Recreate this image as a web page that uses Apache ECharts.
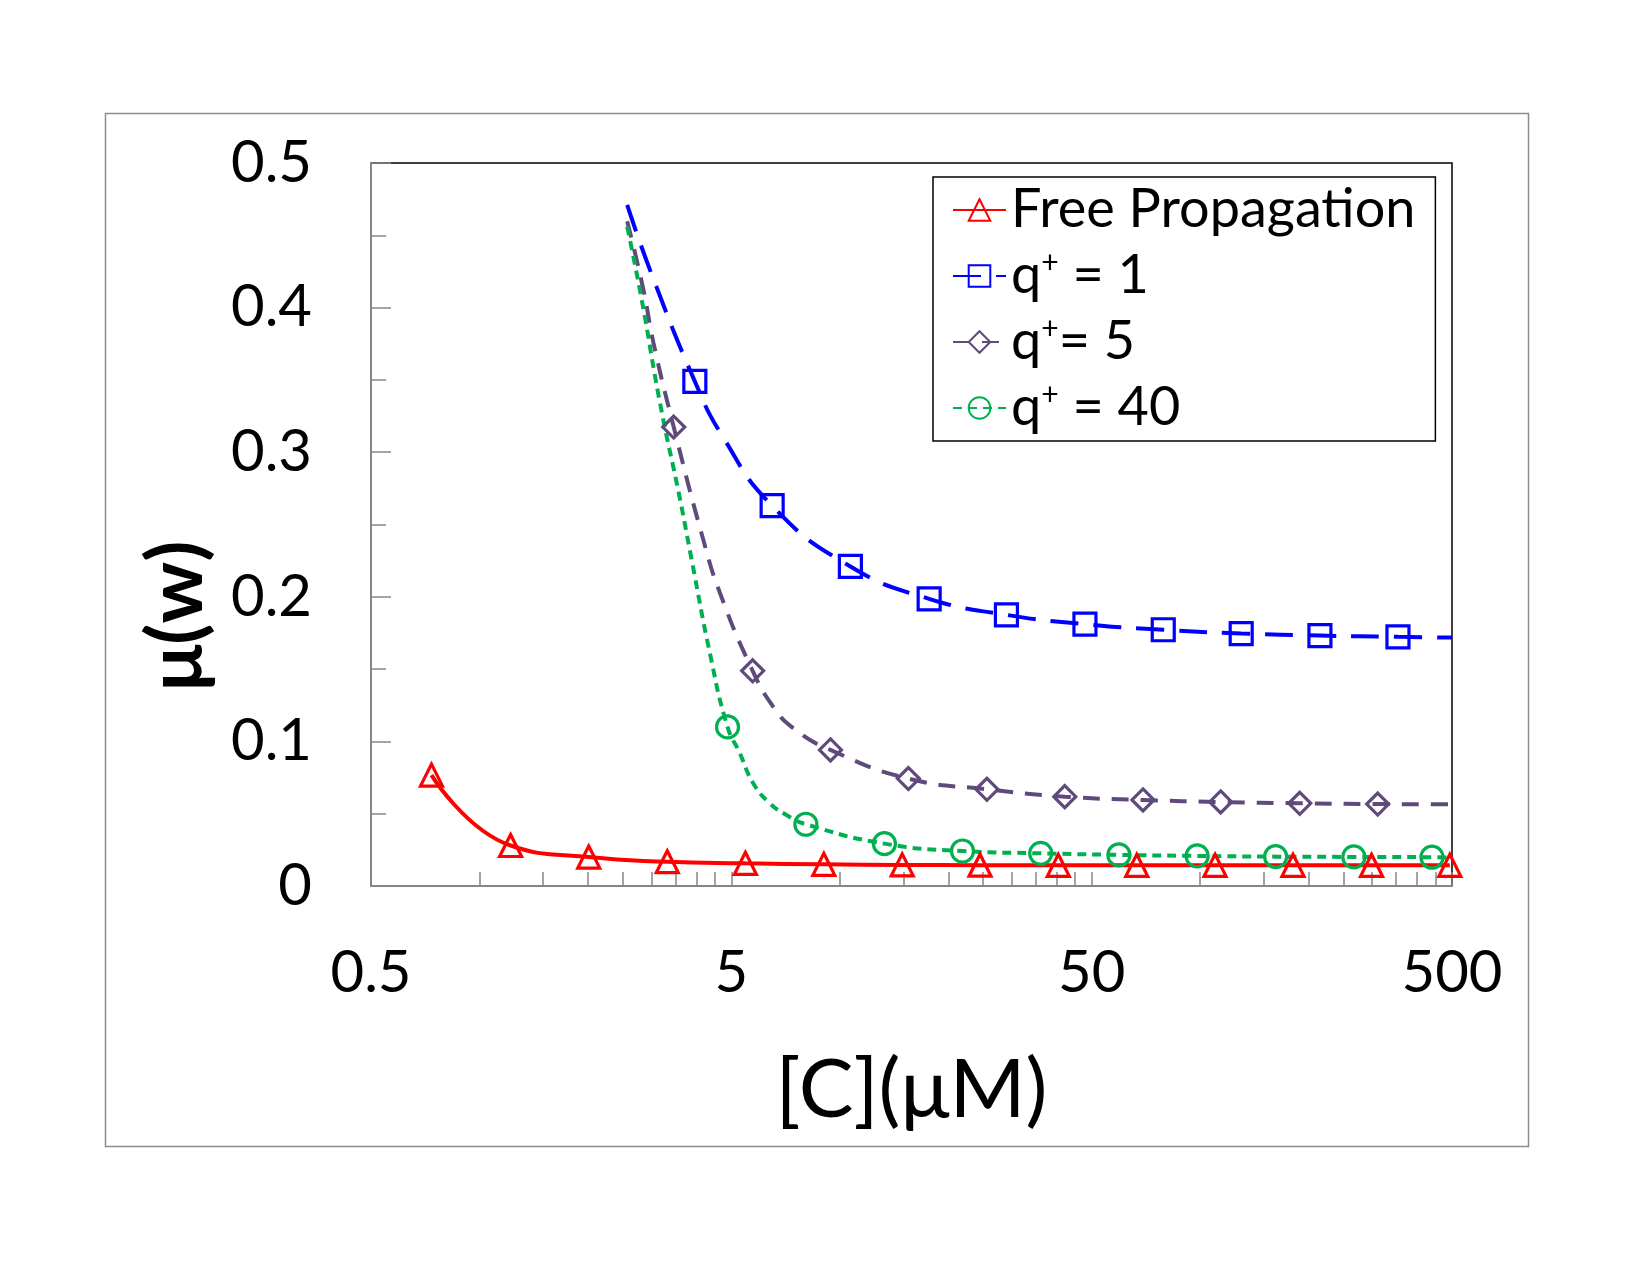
<!DOCTYPE html>
<html>
<head>
<meta charset="utf-8">
<title>mu(w) vs [C]</title>
<script src="https://cdn.jsdelivr.net/npm/echarts@6/dist/echarts.min.js"></script>
<style>
  html, body { margin: 0; background: #fff; }
  #chart { width: 1650px; height: 1275px; }
</style>
</head>
<body>
<div id="chart"></div>
<script>
// values: [C] in uM, mu(w); mark = 1 where a marker is drawn
var freeX  = [0.736, 1.22, 2.01, 3.32, 5.47, 9.03, 14.9, 24.5, 40.4, 66.7, 110, 181, 299, 493];
var freeY  = [0.0767, 0.0280, 0.0200, 0.0168, 0.0157, 0.0150, 0.0146, 0.0144, 0.0143, 0.0143, 0.0143, 0.0143, 0.0143, 0.0143];
var freeM  = [1, 1, 1, 1, 1, 1, 1, 1, 1, 1, 1, 1, 1, 1];

var q1X = [2.57, 3.0, 3.96, 4.70, 6.49, 10.7, 17.7, 29.0, 47.9, 79.0, 130, 215, 354, 500];
var q1Y = [0.471, 0.4235, 0.349, 0.312, 0.263, 0.221, 0.1986, 0.1875, 0.1811, 0.1772, 0.1746, 0.1732, 0.1723, 0.1718];
var q1M = [0, 0, 1, 0, 1, 1, 1, 1, 1, 1, 1, 1, 1, 0];

var q5X = [2.57, 2.85, 3.04, 3.46, 4.18, 4.65, 5.73, 6.53, 7.42, 9.42, 15.5, 25.6, 42.1, 69.4, 114, 189, 311, 500];
var q5Y = [0.4597, 0.4125, 0.3756, 0.3174, 0.2394, 0.2026, 0.1488, 0.1241, 0.1092, 0.0941, 0.0743, 0.0669, 0.0618, 0.0595, 0.0581, 0.0572, 0.0567, 0.0565];
var q5M = [0, 0, 0, 1, 0, 0, 1, 0, 0, 1, 1, 1, 1, 1, 1, 1, 1, 0];

var q40X = [2.57, 2.82, 3.17, 3.60, 3.88, 4.36, 4.88, 5.28, 5.75, 6.39, 7.11, 8.05, 13.3, 21.9, 36.1, 59.5, 98.1, 162, 267, 440, 500];
var q40Y = [0.456, 0.4055, 0.334, 0.2678, 0.2256, 0.161, 0.110, 0.0918, 0.0711, 0.0573, 0.0491, 0.0427, 0.0293, 0.0242, 0.0226, 0.0215, 0.0208, 0.0203, 0.0201, 0.0199, 0.0196];
var q40M = [0, 0, 0, 0, 0, 0, 1, 0, 0, 0, 0, 1, 1, 1, 1, 1, 1, 1, 1, 1, 0];

var xTickLabels = ['0.5', '5', '50', '500'];
var yTickLabels = ['0', '0.1', '0.2', '0.3', '0.4', '0.5'];

var FONT = 'Lato, "Open Sans", sans-serif';
var X0 = 0.5;   // left end of the log axis

// log axis drawn as a value axis over log10(c / 0.5)
function lx(c) { return Math.log10(c / X0); }

function points(xs, ys, ms) {
  return xs.map(function (x, i) {
    var item = { value: [lx(x), ys[i]] };
    if (!ms[i]) item.symbol = 'none';
    return item;
  });
}

// minor ticks like Excel: 0.5*k*10^d
var xTicks = [];
for (var d = 0; d < 3; d++) {
  for (var k = 1; k <= 10; k++) {
    xTicks.push(lx(X0 * k * Math.pow(10, d)));
  }
}

function makeSeries(name, xs, ys, ms, color, symbol, dash) {
  return {
    name: name,
    type: 'line',
    data: points(xs, ys, ms),
    smooth: 0.5,
    symbol: symbol,
    symbolSize: 22,
    showAllSymbol: true,
    lineStyle: { color: color, width: 4, type: dash },
    itemStyle: { color: 'rgba(0,0,0,0)', borderColor: color, borderWidth: 3.2 },
    emphasis: { disabled: true }
  };
}

var myChart = echarts.init(document.getElementById('chart'));

var option = {
  backgroundColor: '#fff',
  animation: false,
  grid: {
    left: 371, top: 163, right: 198, bottom: 389,
    show: true, borderColor: '#000', borderWidth: 1.5
  },
  legend: {
    orient: 'vertical',
    left: 933, top: 177,
    padding: [5, 20, 5, 19],
    backgroundColor: '#fff',
    borderColor: '#000',
    borderWidth: 1.5,
    itemWidth: 53,
    itemHeight: 27,
    itemGap: 10,
    textStyle: {
      fontFamily: FONT, fontSize: 54, color: '#000', lineHeight: 56,
      rich: {
        s: { fontFamily: FONT, fontSize: 30, verticalAlign: 'top', lineHeight: 38, color: '#000' }
      }
    },
    formatter: function (name) {
      return name.replace('+', '{s|+}');
    },
    data: ['Free Propagation', 'q+ = 1', 'q+= 5', 'q+ = 40']
  },
  xAxis: {
    type: 'value',
    min: 0, max: 3, interval: 1,
    name: '[C](μM)',
    nameLocation: 'middle',
    nameGap: 164,
    nameTextStyle: { fontFamily: FONT, fontSize: 82, color: '#000' },
    axisLine: { lineStyle: { color: '#868686', width: 2 } },
    axisTick: { inside: true, length: 14, customValues: xTicks, lineStyle: { color: '#868686', width: 1.5 } },
    axisLabel: {
      margin: 58, fontFamily: FONT, fontSize: 58, color: '#000',
      formatter: function (v) { return xTickLabels[Math.round(v)]; }
    },
    splitLine: { show: false }
  },
  yAxis: {
    type: 'value',
    min: 0, max: 0.5, interval: 0.1,
    axisLine: { show: true, lineStyle: { color: '#868686', width: 2 } },
    axisTick: { show: true, inside: true, length: 20, lineStyle: { color: '#868686', width: 1.5 } },
    minorTick: { show: true, splitNumber: 2, length: 15, lineStyle: { color: '#868686', width: 1.5 } },
    axisLabel: {
      margin: 59, fontFamily: FONT, fontSize: 58, color: '#000',
      formatter: function (v) { return yTickLabels[Math.round(v * 10)]; }
    },
    splitLine: { show: false }
  },
  graphic: [
    {
      type: 'rect', left: 103, top: 111, silent: true,
      shape: { width: 1423, height: 1033 },
      style: { fill: 'none', stroke: '#8c8c8c', lineWidth: 1.5 }
    },
    {
      type: 'text', x: 177, y: 616, rotation: Math.PI / 2, silent: true,
      style: { text: 'μ(w)', fontFamily: FONT, fontSize: 77, fontWeight: 'bold', fill: '#000', align: 'center', verticalAlign: 'middle' }
    }
  ],
  series: [
    makeSeries('Free Propagation', freeX, freeY, freeM, '#ff0000', 'triangle', 'solid'),
    makeSeries('q+ = 1', q1X, q1Y, q1M, '#0000ff', 'rect', [28, 15]),
    makeSeries('q+= 5', q5X, q5Y, q5M, '#604a7b', 'diamond', [17, 12]),
    makeSeries('q+ = 40', q40X, q40Y, q40M, '#00b050', 'circle', [9, 6])
  ]
};

myChart.setOption(option);
</script>
</body>
</html>
